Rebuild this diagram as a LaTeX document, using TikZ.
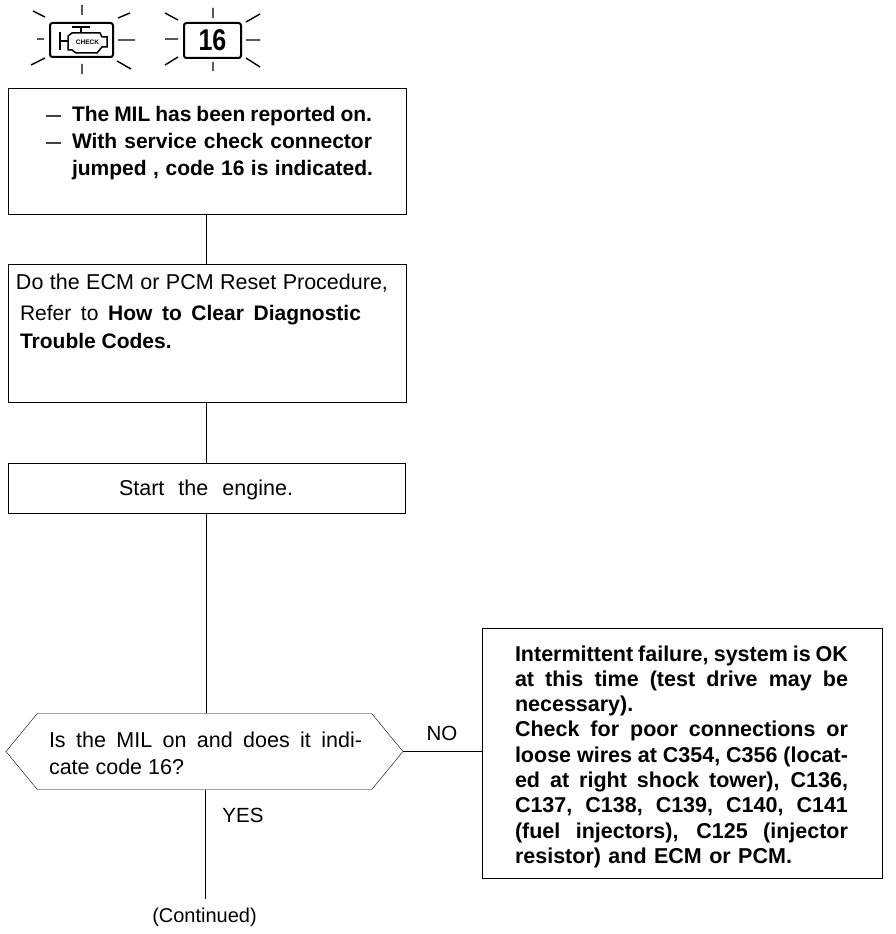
\documentclass[tikz,border=0pt]{standalone}
\usepackage{fontspec}
\setmainfont{Liberation Sans}
\usetikzlibrary{shapes.symbols}
\newcommand{\jl}[2]{\makebox[#1pt][s]{#2}}
\tikzset{
  x=1pt,y=-1pt,
  line width=1.8pt,
  boxnode/.style={draw,rectangle,minimum width=#1,inner sep=0pt,outer sep=0pt},
  hexnode/.style={draw,signal,signal to=west and east,signal pointer angle=101,inner sep=0pt,outer sep=0pt,minimum width=397pt,minimum height=76pt},
  textlines/.style={anchor=north west,inner sep=0pt,outer sep=0pt,align=left,font=\fontsize{21.5}{27}\selectfont},
  lamp/.style={draw,rectangle,rounded corners=2.5pt,line width=2pt,inner sep=0pt},
  ray/.style={line width=1.4pt},
  tag/.style={inner sep=0pt,font=\fontsize{20.5}{24}\selectfont}
}
\begin{document}
\begin{tikzpicture}
\useasboundingbox (0,0) rectangle (896,934);
% lamps
\node[lamp,minimum width=63pt,minimum height=34pt] (chk) at (81.5,40) {};
\node[lamp,minimum width=57pt,minimum height=35pt] (num) at (212.5,40.5) {\fontsize{25}{25}\selectfont\bfseries\scalebox{1}[1.2]{16}};
% engine pictogram
\draw[line width=1.5pt] (68,36) -- (72,33) -- (100,33) -- (102,37) -- (107,37) -- (107,47) -- (102,47) -- (97,53) -- (76,53) -- (72,50) -- (68,50) -- cycle;
\draw[line width=1.5pt] (72,27) -- (90,27) (81,27) -- (81,33);
\draw[line width=2.2pt] (60,32) -- (60,50);
\draw[line width=1.5pt] (60,41) -- (68,41);
\node[inner sep=0pt,font=\fontsize{6.5}{7}\selectfont\bfseries] (chktxt) at (87.5,42.5) {CHECK};
% rays
\draw[ray] (82,5) -- (82,15) (82,64) -- (82,74) (37,39) -- (44,39) (118,40) -- (135,40)
  (33,11) -- (45,17) (118,18) -- (130,13) (31,65) -- (45,58) (117,61) -- (131,69);
\draw[ray] (213,8) -- (213,18) (213,62) -- (213,71) (165,39) -- (178,39) (246,40) -- (260,40)
  (165,13) -- (178,20) (246,22) -- (260,14) (165,65) -- (178,57) (246,58) -- (260,67);
% boxes
\node[boxnode=398pt,minimum height=126pt] (b1) at (207,151) {};
\node[boxnode=398pt,minimum height=138pt] (b2) at (207,333) {};
\node[boxnode=397pt,minimum height=50pt] (b3) at (206.5,488) {};
\node[hexnode] (hex) at (204.5,751.5) {};
\node[boxnode=400pt,minimum height=250pt] (b4) at (682,753) {};
\coordinate (hexN) at (206,713);
\coordinate (hexS) at (205,789.5);
\coordinate (cont) at (205,899);
% connectors
\draw (b1.south -| 206,0) -- (b2.north -| 206,0);
\draw[line width=1pt] (b2.south -| 206,0) -- (b3.north -| 206,0);
\draw (b3.south -| 206,0) -- (hexN);
\draw (hex.east) -- (b4.west |- hex.east);
\draw (hexS) -- (cont);
% texts
\node[textlines,font=\fontsize{15}{27}\selectfont] (t1a) at (46,116) {\bfseries —\\\bfseries —};
\node[textlines,font=\fontsize{21}{27}\selectfont] (t1b) at (72,106) {\bfseries\jl{300}{The MIL has been reported on.}\\\bfseries\jl{300}{With service check connector}\\\bfseries\jl{301}{jumped , code 16 is indicated.}};
\node[textlines] (t2a) at (16,274) {\jl{372}{Do the ECM or PCM Reset Procedure,}};
\node[textlines,font=\fontsize{21}{28}\selectfont] (t2b) at (20,305) {\jl{341}{Refer to \textbf{How to Clear Diagnostic}}\\\textbf{Trouble Codes.}};
\node[tag,font=\fontsize{21.5}{24}\selectfont] (t3) at (206,489.5) {\jl{174}{Start the engine.}};
\node[textlines] (t4) at (49,732) {\jl{313}{Is the MIL on and does it indi-}\\cate code 16?};
\node[tag,anchor=center] (no) at (442,733.5) {NO};
\node[tag,anchor=center] (yes) at (243,815.5) {YES};
\node[inner sep=0pt,font=\fontsize{20}{22}\selectfont] (c) at (204.5,917) {(Continued)};
\node[textlines,font=\fontsize{21.5}{25.3}\selectfont\bfseries] (t5) at (515,645.5) {%
\jl{333}{Intermittent failure, system is OK}\\
\jl{333}{at this time (test drive may be}\\
necessary).\\
\jl{333}{Check for poor connections or}\\
\jl{333}{loose wires at C354, C356 (locat-}\\
\jl{333}{ed at right shock tower), C136,}\\
\jl{333}{C137, C138, C139, C140, C141}\\
\jl{333}{(fuel injectors), C125 (injector}\\
\jl{277}{resistor) and ECM or PCM.}};
\end{tikzpicture}
\end{document}
